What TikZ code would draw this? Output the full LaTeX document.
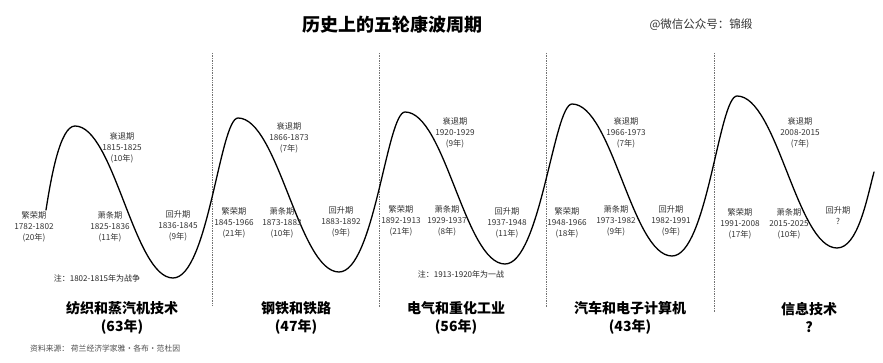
\documentclass[tikz,border=0pt]{standalone}
\usepackage{fontspec}
\setmainfont{Noto Sans CJK SC}
\begin{document}
\begin{tikzpicture}[x=1pt,y=-1pt,
  phase/.style={font=\fontsize{8.2}{11}\selectfont, text=black!80, align=center, inner sep=0pt},
  note/.style={font=\fontsize{8}{10}\selectfont, text=black!85, inner sep=0pt},
  era/.style={font=\bfseries\fontsize{14}{18}\selectfont, align=center, inner sep=0pt},
  divider/.style={draw=black!55, densely dotted, line width=0.7pt},
  wave/.style={draw=black, line width=1.3pt, line cap=round}]
\useasboundingbox (0,0) rectangle (883,363);
% title and mark
\node[font=\bfseries\fontsize{18}{20}\selectfont, inner sep=0pt] (title) at (392,25) {历史上的五轮康波周期};
\node[font=\fontsize{11.5}{13}\selectfont, text=black!80, inner sep=0pt] (mark) at (701,25) {@微信公众号：锦缎};
% dividers
\coordinate (d1t) at (212,53); \coordinate (d1b) at (212,305);
\coordinate (d2t) at (379,53); \coordinate (d2b) at (379,307);
\coordinate (d3t) at (546,53); \coordinate (d3b) at (546,307);
\coordinate (d4t) at (714,53); \coordinate (d4b) at (714,312);
\draw[divider] (d1t) -- (d1b);
\draw[divider] (d2t) -- (d2b);
\draw[divider] (d3t) -- (d3b);
\draw[divider] (d4t) -- (d4b);
% wave
\coordinate (s0) at (46,210);
\coordinate (p1) at (75,126);  \coordinate (t1) at (173,278);
\coordinate (p2) at (238,118); \coordinate (t2) at (339,272);
\coordinate (p3) at (405,112); \coordinate (t3) at (505,264);
\coordinate (p4) at (572,104); \coordinate (t4) at (672,256);
\coordinate (p5) at (737,96);  \coordinate (t5) at (837,248);
\coordinate (e0) at (874,172);
\draw[wave] (s0) .. controls (51,178) and (60,126) .. (p1)
  .. controls (114,126) and (134,278) .. (t1)
  .. controls (208,278) and (220,118) .. (p2)
  .. controls (278,118) and (299,272) .. (t2)
  .. controls (374,272) and (387,112) .. (p3)
  .. controls (445,112) and (465,264) .. (t3)
  .. controls (540,264) and (554,104) .. (p4)
  .. controls (612,104) and (632,256) .. (t4)
  .. controls (707,256) and (719,96) .. (p5)
  .. controls (777,96) and (797,248) .. (t5)
  .. controls (858,248) and (867,198) .. (e0);
% cycle 1
\node[phase] (b1) at (34,227) {繁荣期\\1782-1802\\(20年)};
\node[phase] (r1) at (122,148) {衰退期\\1815-1825\\(10年)};
\node[phase] (x1) at (110,227) {萧条期\\1825-1836\\(11年)};
\node[phase] (u1) at (178,226) {回升期\\1836-1845\\(9年)};
\node[note] (n1) at (97,278) {注：1802-1815年为战争};
% cycle 2
\node[phase] (b2) at (234,223) {繁荣期\\1845-1966\\(21年)};
\node[phase] (r2) at (289,138) {衰退期\\1866-1873\\(7年)};
\node[phase] (x2) at (282,223) {萧条期\\1873-1883\\(10年)};
\node[phase] (u2) at (341,222) {回升期\\1883-1892\\(9年)};
% cycle 3
\node[phase] (b3) at (401,221) {繁荣期\\1892-1913\\(21年)};
\node[phase] (r3) at (455,133) {衰退期\\1920-1929\\(9年)};
\node[phase] (x3) at (447,221) {萧条期\\1929-1937\\(8年)};
\node[phase] (u3) at (507,223) {回升期\\1937-1948\\(11年)};
\node[note] (n3) at (461,274) {注：1913-1920年为一战};
% cycle 4
\node[phase] (b4) at (567,223) {繁荣期\\1948-1966\\(18年)};
\node[phase] (r4) at (626,133) {衰退期\\1966-1973\\(7年)};
\node[phase] (x4) at (616,221) {萧条期\\1973-1982\\(9年)};
\node[phase] (u4) at (671,221) {回升期\\1982-1991\\(9年)};
% cycle 5
\node[phase] (b5) at (740,224) {繁荣期\\1991-2008\\(17年)};
\node[phase] (r5) at (800,133) {衰退期\\2008-2015\\(7年)};
\node[phase] (x5) at (789,224) {萧条期\\2015-2025\\(10年)};
\node[phase] (u5) at (838,216) {回升期\\?};
% eras
\node[era] (e1) at (122,318) {纺织和蒸汽机技术\\(63年)};
\node[era] (e2) at (296,318) {钢铁和铁路\\(47年)};
\node[era] (e3) at (456,318) {电气和重化工业\\(56年)};
\node[era] (e4) at (630,318) {汽车和电子计算机\\(43年)};
\node[era] (e5) at (809,318) {信息技术\\?};
% source
\node[font=\fontsize{7.8}{9}\selectfont, text=black!70, anchor=west, inner sep=0pt] (src) at (30,349) {资料来源：\ 荷兰经济学家雅·各布·范杜因};
\end{tikzpicture}
\end{document}
